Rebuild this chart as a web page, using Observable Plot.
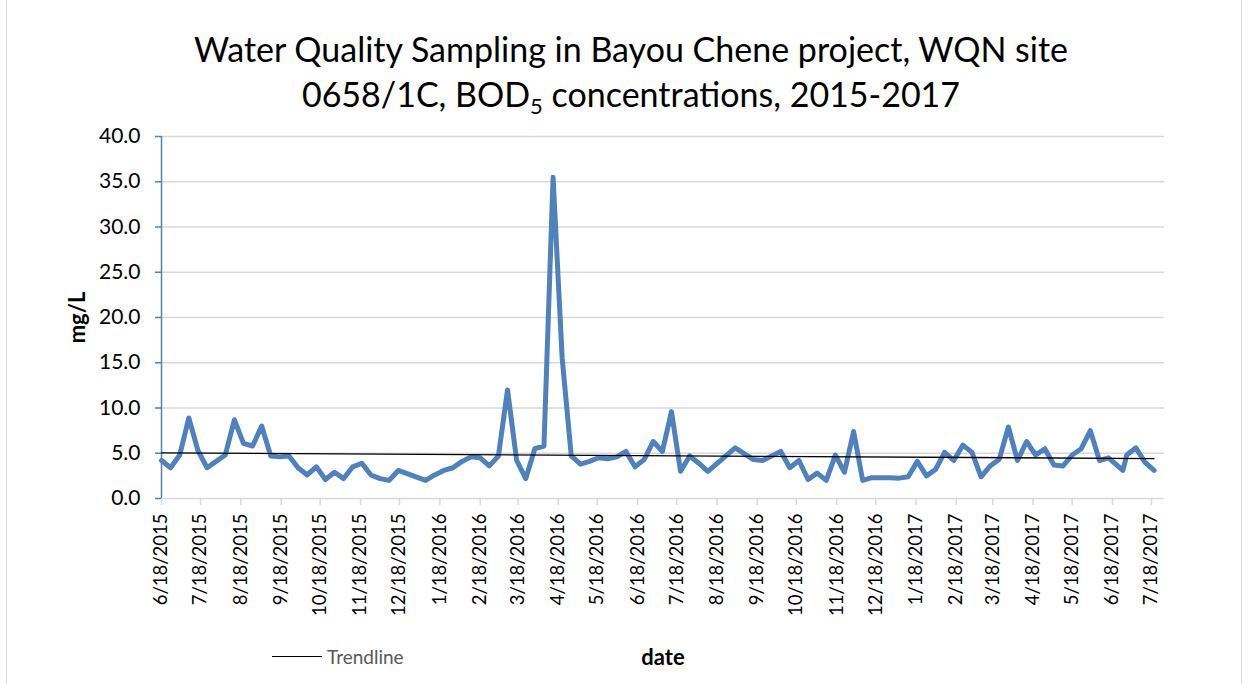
<!DOCTYPE html>
<html>
<head>
<meta charset="utf-8">
<script src="https://cdn.jsdelivr.net/npm/d3@7"></script>
<script src="https://cdn.jsdelivr.net/npm/@observablehq/plot@0.6"></script>
<style>
  html, body { margin: 0; padding: 0; background: #fff; }
  #wrap { position: relative; width: 1250px; height: 684px; overflow: hidden; font-family: Lato, "Open Sans", sans-serif; }
  #frame { position: absolute; left: 6px; top: -2px; width: 1236px; height: 690px; border: 1.5px solid #d9d9d9; box-sizing: border-box; }
  #title { position: absolute; left: 0; top: 26px; width: 1262px; text-align: center; font-size: 34px; line-height: 45px; color: #000; }
  #chart { position: absolute; left: 0; top: 120px; }
  #legend { position: absolute; left: 272px; top: 645px; font-size: 19px; color: #595959; display: flex; align-items: center; }
  #legend .sw { width: 50px; height: 0; border-top: 1.3px solid #000; margin-right: 5px; }
</style>
</head>
<body>
<div id="wrap">
  <div id="frame"></div>
  <div id="title">Water Quality Sampling in Bayou Chene project, WQN site<br>0658/1C, BOD<sub style="font-size:22px;vertical-align:-7px">5</sub> concentrations, 2015-2017</div>
  <div id="chart"></div>
  <div id="legend"><div class="sw"></div><span>Trendline</span></div>
</div>
<script>
const sampleDates = [
  "2015-06-18","2015-06-25","2015-07-02","2015-07-09","2015-07-16","2015-07-23","2015-07-30","2015-08-06",
  "2015-08-13","2015-08-20","2015-08-27","2015-09-03","2015-09-10","2015-09-17","2015-09-24","2015-10-01",
  "2015-10-08","2015-10-15","2015-10-22","2015-10-29","2015-11-05","2015-11-12","2015-11-19","2015-11-26",
  "2015-12-03","2015-12-10","2015-12-17","2016-01-07","2016-01-14","2016-01-21","2016-01-28","2016-02-04",
  "2016-02-11","2016-02-18","2016-02-25","2016-03-03","2016-03-10","2016-03-17","2016-03-24","2016-03-31",
  "2016-04-07","2016-04-14","2016-04-21","2016-04-28","2016-05-05","2016-05-12","2016-05-19","2016-05-26",
  "2016-06-02","2016-06-09","2016-06-16","2016-06-23","2016-06-30","2016-07-07","2016-07-14","2016-07-21",
  "2016-07-28","2016-08-04","2016-08-11","2016-09-01","2016-09-15","2016-09-22","2016-10-06","2016-10-13",
  "2016-10-20","2016-10-27","2016-11-03","2016-11-10","2016-11-17","2016-11-24","2016-12-01","2016-12-08",
  "2016-12-15","2016-12-29","2017-01-05","2017-01-12","2017-01-19","2017-01-26","2017-02-02","2017-02-09",
  "2017-02-16","2017-02-23","2017-03-02","2017-03-09","2017-03-16","2017-03-23","2017-03-30","2017-04-06",
  "2017-04-13","2017-04-20","2017-04-27","2017-05-04","2017-05-11","2017-05-18","2017-05-25","2017-06-01",
  "2017-06-08","2017-06-15","2017-06-26","2017-06-29","2017-07-06","2017-07-13","2017-07-20"
];
const bodValues = [
  4.2,3.4,4.8,8.9,5.3,3.4,4.1,4.8,
  8.7,6.1,5.8,8.0,4.7,4.6,4.7,3.4,
  2.6,3.5,2.1,2.9,2.2,3.5,3.9,2.6,
  2.2,2.0,3.1,2.0,2.6,3.1,3.4,4.1,
  4.6,4.5,3.6,4.7,12.0,4.2,2.2,5.5,
  5.8,35.5,15.5,4.7,3.8,4.1,4.5,4.4,
  4.6,5.2,3.5,4.3,6.3,5.2,9.6,3.0,
  4.7,3.9,3.0,5.6,4.3,4.2,5.2,3.4,
  4.2,2.1,2.8,2.0,4.8,2.9,7.4,2.0,
  2.3,2.3,2.25,2.4,4.1,2.5,3.2,5.1,
  4.2,5.9,5.1,2.4,3.6,4.35,7.9,4.2,
  6.3,4.8,5.5,3.7,3.6,4.8,5.5,7.5,
  4.2,4.5,3.1,4.8,5.6,4.0,3.1
];
const xTickLabels = [
  "6/18/2015","7/18/2015","8/18/2015","9/18/2015","10/18/2015","11/18/2015","12/18/2015",
  "1/18/2016","2/18/2016","3/18/2016","4/18/2016","5/18/2016","6/18/2016","7/18/2016",
  "8/18/2016","9/18/2016","10/18/2016","11/18/2016","12/18/2016","1/18/2017","2/18/2017",
  "3/18/2017","4/18/2017","5/18/2017","6/18/2017","7/18/2017"
];
const yTicks = [0,5,10,15,20,25,30,35,40];
const xDomain = ["2015-06-18","2017-07-28"];

const parseMDY = s => { const [m,d,y] = s.split("/").map(Number); return new Date(Date.UTC(y, m-1, d)); };
const data = sampleDates.map((d,i) => ({date: new Date(d + "T00:00:00Z"), v: bodValues[i]}));
const tickDates = xTickLabels.map(parseMDY);
const fmt = d => `${d.getUTCMonth()+1}/${d.getUTCDate()}/${d.getUTCFullYear()}`;

const blue = "#4f81bd";
const chart = Plot.plot({
  width: 1250,
  height: 564,
  marginLeft: 161,
  marginRight: 86,
  marginTop: 16,
  marginBottom: 186,
  style: {fontFamily: "Lato, 'Open Sans', sans-serif", fontSize: "19px", color: "#000", background: "transparent", overflow: "visible"},
  x: {type: "utc", domain: xDomain.map(d => new Date(d + "T00:00:00Z"))},
  y: {domain: [0, 40]},
  marks: [
    Plot.gridY(yTicks, {stroke: "#d9d9d9", strokeOpacity: 1, strokeWidth: 1.5}),
    Plot.axisX(tickDates, {
      tickFormat: fmt, tickRotate: -90, tickSize: 7, tickPadding: 8,
      stroke: "#d9d9d9", strokeWidth: 1.5, fontSize: 18.5, fill: "#000",
      label: "date", labelAnchor: "center", labelOffset: 166, labelArrow: "none"
    }),
    Plot.axisY(yTicks, {
      tickFormat: d => d.toFixed(1), tickSize: 6, tickPadding: 15,
      stroke: blue, strokeWidth: 1.5, fontSize: 21, fill: "#000",
      label: "mg/L", labelAnchor: "center", labelOffset: 92, labelArrow: "none"
    }),
    Plot.ruleX([new Date(xDomain[0] + "T00:00:00Z")], {stroke: blue, strokeWidth: 1.5}),
    Plot.line(data, {x: "date", y: "v", stroke: blue, strokeWidth: 5, strokeLinejoin: "round", strokeLinecap: "round"}),
    Plot.linearRegressionY(data, {x: "date", y: "v", stroke: "#000", strokeWidth: 1.3, ci: 0})
  ]
});
// bold axis titles
chart.querySelectorAll("g[aria-label='x-axis label'] text, g[aria-label='y-axis label'] text").forEach(t => {
  t.style.fontWeight = "bold"; t.style.fontSize = "22px";
});
document.getElementById("chart").appendChild(chart);
</script>
</body>
</html>
